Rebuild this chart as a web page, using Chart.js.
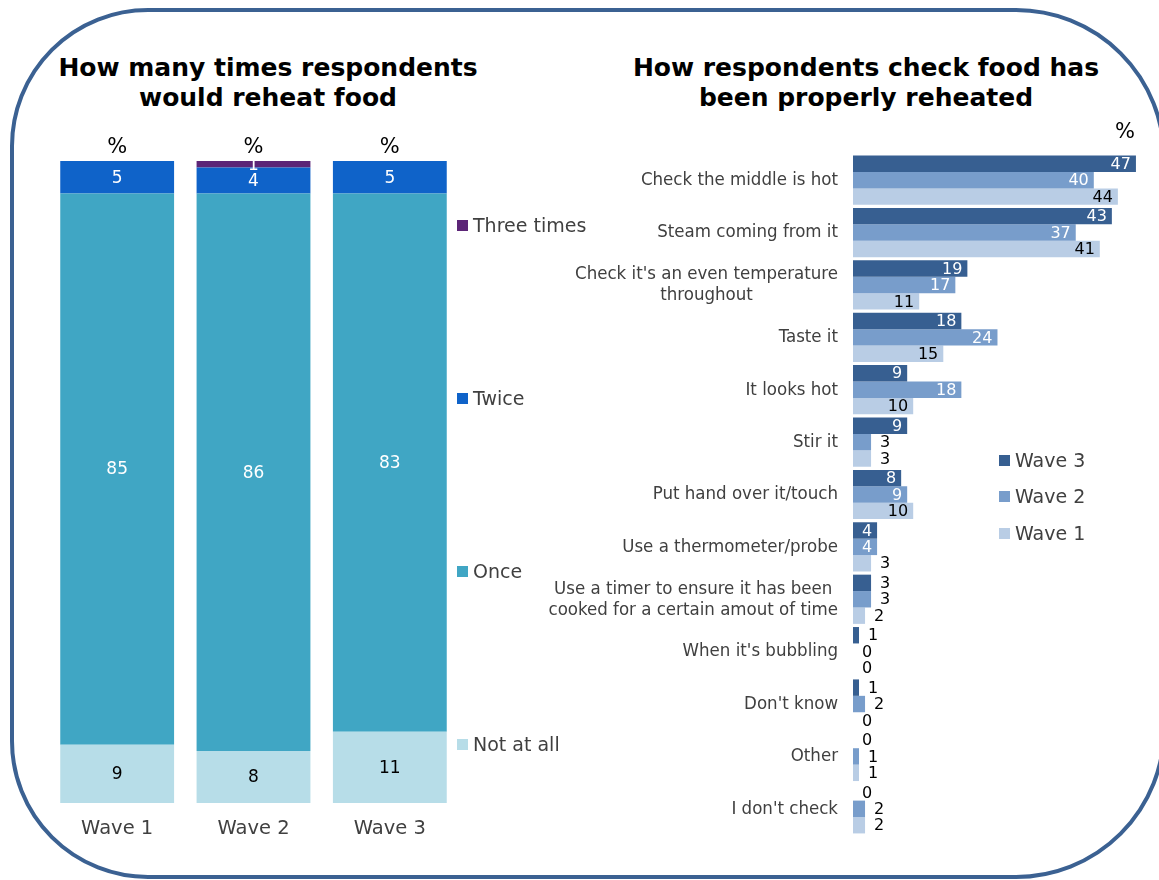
<!DOCTYPE html>
<html>
<head>
<meta charset="utf-8">
<script src="https://cdn.jsdelivr.net/npm/chart.js@4.4.0/dist/chart.umd.min.js"></script>
<style>
  body { margin: 0; background: #fff; width: 1159px; height: 880px; position: relative; overflow: hidden;
         font-family: "DejaVu Sans", Verdana, sans-serif; }
  .frame { position: absolute; left: 10px; top: 8px; width: 1156px; height: 871px; box-sizing: border-box;
           border: 4px solid #3b6192; border-radius: 138px 150px 150px 138px; }
  .title { position: absolute; font-weight: bold; font-size: 25px; line-height: 30px; text-align: center; color: #000; }
  .leg { position: absolute; display: flex; align-items: center; height: 20px; font-size: 19px; color: #404040; white-space: nowrap; }
  .leg i { display: inline-block; width: 11px; height: 11px; margin-right: 5px; }
  canvas { position: absolute; top: 0; }
</style>
</head>
<body>
<div class="frame"></div>
<div class="title" style="left:0px; top:53px; width:536px;">How many times respondents<br>would reheat food</div>
<div class="title" style="left:596px; top:53px; width:540px;">How respondents check food has<br>been properly reheated</div>

<canvas id="reheatChart" width="600" height="880" style="left:0px"></canvas>
<canvas id="checkChart" width="619" height="880" style="left:540px"></canvas>

<div class="leg" style="left:457px; top:215px;"><i style="background:#5c2577"></i>Three times</div>
<div class="leg" style="left:457px; top:388px;"><i style="background:#0f63c9"></i>Twice</div>
<div class="leg" style="left:457px; top:561px;"><i style="background:#40a6c4"></i>Once</div>
<div class="leg" style="left:457px; top:734px;"><i style="background:#b7dde8"></i>Not at all</div>

<div class="leg" style="left:999px; top:450px;"><i style="background:#375f91"></i>Wave 3</div>
<div class="leg" style="left:999px; top:486px;"><i style="background:#789dcb"></i>Wave 2</div>
<div class="leg" style="left:999px; top:523px;"><i style="background:#b9cde5"></i>Wave 1</div>

<script>
// Left chart: how many times respondents would reheat food (%)
const waves = ["Wave 1", "Wave 2", "Wave 3"]
const notAtAll = [9, 8, 11]
const once = [85, 86, 83]
const twice = [5, 4, 5]
const threeTimes = [0, 1, 0]

// Right chart: how respondents check food has been properly reheated (%)
const checkMethods = [
  "Check the middle is hot",
  "Steam coming from it",
  ["Check it's an even temperature", "throughout"],
  "Taste it",
  "It looks hot",
  "Stir it",
  "Put hand over it/touch",
  "Use a thermometer/probe",
  ["Use a timer to ensure it has been", "cooked for a certain amout of time"],
  "When it's bubbling",
  "Don't know",
  "Other",
  "I don't check",
]
const wave3 = [47, 43, 19, 18, 9, 9, 8, 4, 3, 1, 1, 0, 0]
const wave2 = [40, 37, 17, 24, 18, 3, 9, 4, 3, 0, 2, 1, 2]
const wave1 = [44, 41, 11, 15, 10, 3, 10, 3, 2, 0, 0, 1, 2]

const FONT = '"DejaVu Sans", Verdana, sans-serif'
const CONDENSED = '"DejaVu Sans Condensed", "Liberation Sans Narrow", "DejaVu Sans", sans-serif'

// 100% stacked: each segment is its share of the wave total
const reheatSeries = [
  { label: "Not at all", values: notAtAll, color: "#b7dde8", text: "#000" },
  { label: "Once", values: once, color: "#40a6c4", text: "#fff" },
  { label: "Twice", values: twice, color: "#0f63c9", text: "#fff" },
  { label: "Three times", values: threeTimes, color: "#5c2577", text: "#fff" },
]
const waveTotals = waves.map((_, j) => reheatSeries.reduce((s, d) => s + d.values[j], 0))

const reheatLabels = {
  id: "reheatLabels",
  afterDatasetsDraw(chart) {
    const { ctx } = chart
    const xs = chart.scales.x
    ctx.save()
    ctx.textAlign = "center"
    ctx.textBaseline = "middle"
    ctx.font = "17px " + FONT
    reheatSeries.forEach((s, i) => {
      const meta = chart.getDatasetMeta(i)
      meta.data.forEach((bar, j) => {
        const v = s.values[j]
        if (!v) return
        ctx.fillStyle = s.text
        ctx.fillText(String(v), bar.x, (bar.y + bar.base) / 2 + 1)
      })
    })
    waves.forEach((w, j) => {
      const x = xs.getPixelForValue(j)
      ctx.fillStyle = "#000"
      ctx.font = "21px " + FONT
      ctx.fillText("%", x, 148)
      ctx.fillStyle = "#404040"
      ctx.font = "19.5px " + FONT
      ctx.fillText(w, x, 829)
    })
    ctx.restore()
  },
}

new Chart(document.getElementById("reheatChart"), {
  type: "bar",
  data: {
    labels: waves,
    datasets: reheatSeries.map((s) => ({
      label: s.label,
      data: s.values.map((v, j) => (v / waveTotals[j]) * 100),
      backgroundColor: s.color,
      borderWidth: 0,
      categoryPercentage: 0.835,
      barPercentage: 1,
    })),
  },
  options: {
    responsive: false,
    animation: false,
    devicePixelRatio: 1,
    layout: { padding: { left: 49, right: 142, top: 161, bottom: 77 } },
    plugins: { legend: { display: false }, tooltip: { enabled: false } },
    scales: {
      x: { display: false, stacked: true },
      y: { display: false, stacked: true, min: 0, max: 100 },
    },
  },
  plugins: [reheatLabels],
})

const checkSeries = [
  { label: "Wave 3", values: wave3, color: "#375f91", text: "#fff" },
  { label: "Wave 2", values: wave2, color: "#789dcb", text: "#fff" },
  { label: "Wave 1", values: wave1, color: "#b9cde5", text: "#000" },
]

const checkLabels = {
  id: "checkLabels",
  afterDatasetsDraw(chart) {
    const { ctx } = chart
    const ys = chart.scales.y
    ctx.save()
    ctx.textBaseline = "middle"
    ctx.font = "16px " + FONT
    checkSeries.forEach((s, i) => {
      const meta = chart.getDatasetMeta(i)
      meta.data.forEach((bar, j) => {
        const v = s.values[j]
        if (v >= 4) {
          ctx.textAlign = "right"
          ctx.fillStyle = s.text
          ctx.fillText(String(v), bar.x - 5, bar.y + 1)
        } else {
          ctx.textAlign = "left"
          ctx.fillStyle = "#000"
          ctx.fillText(String(v), bar.x + 9, bar.y + 1)
        }
      })
    })
    // category labels, right aligned block, lines centred
    ctx.font = "18.5px " + CONDENSED
    ctx.fillStyle = "#404040"
    ctx.textAlign = "center"
    checkMethods.forEach((lab, j) => {
      const lines = Array.isArray(lab) ? lab : [lab]
      const yc = ys.getPixelForValue(j)
      const w = Math.max(...lines.map((l) => ctx.measureText(l).width))
      const cx = 298 - w / 2
      lines.forEach((l, k) => ctx.fillText(l, cx, yc + (k - (lines.length - 1) / 2) * 21))
    })
    ctx.fillStyle = "#000"
    ctx.font = "21px " + FONT
    ctx.fillText("%", 585, 133)
    ctx.restore()
  },
}

new Chart(document.getElementById("checkChart"), {
  type: "bar",
  data: {
    labels: checkMethods,
    datasets: checkSeries.map((s) => ({
      label: s.label,
      data: s.values,
      backgroundColor: s.color,
      borderWidth: 0,
      categoryPercentage: 0.94,
      barPercentage: 1,
    })),
  },
  options: {
    indexAxis: "y",
    responsive: false,
    animation: false,
    devicePixelRatio: 1,
    layout: { padding: { left: 313, right: 5, top: 154, bottom: 45 } },
    plugins: { legend: { display: false }, tooltip: { enabled: false } },
    scales: {
      x: { display: false, min: 0, max: 50 },
      y: { display: false },
    },
  },
  plugins: [checkLabels],
})
</script>
</body>
</html>
